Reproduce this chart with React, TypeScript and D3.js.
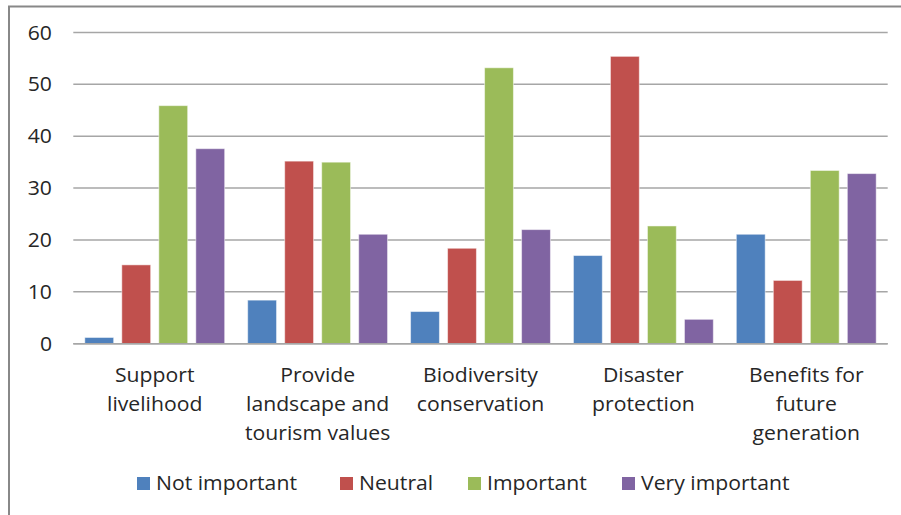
import React from "react";
import * as d3 from "d3";

const categories: string[][] = [
  ["Support", "livelihood"],
  ["Provide", "landscape and", "tourism values"],
  ["Biodiversity", "conservation"],
  ["Disaster", "protection"],
  ["Benefits for", "future", "generation"],
];
const seriesNames = ["Not important", "Neutral", "Important", "Very important"];
const notImportant = [1.2, 8.4, 6.2, 17.0, 21.1];
const neutral = [15.2, 35.2, 18.4, 55.4, 12.2];
const important = [45.9, 35.0, 53.2, 22.7, 33.4];
const veryImportant = [37.6, 21.1, 22.0, 4.7, 32.8];
const yTicks = [0, 10, 20, 30, 40, 50, 60];
const colors = ["#4F81BD", "#C0504D", "#9BBB59", "#8064A2"];

const W = 901;
const H = 515;
const FONT = "'Open Sans', 'DejaVu Sans', sans-serif";
const SX = 1.06;

export default function App() {
  const series = [notImportant, neutral, important, veryImportant];
  const left = 73.3;
  const right = 887.7;
  const y = d3.scaleLinear().domain([0, 60]).range([343.7, 32.5]);
  const x0 = d3
    .scaleBand<number>()
    .domain(categories.map((_, i) => i))
    .range([left, right])
    .paddingInner(0)
    .paddingOuter(0);
  const x1 = d3
    .scaleBand<number>()
    .domain(seriesNames.map((_, i) => i))
    .range([11.5, x0.bandwidth() - 11.5])
    .paddingInner(0.22)
    .paddingOuter(0);

  const legendX = [137, 340, 468, 622];

  return (
    <svg
      width={W}
      height={H}
      style={{ position: "absolute", left: 0, top: 0, background: "#fff" }}
    >
      <rect x={0} y={0} width={W} height={H} fill="#fff" />
      <rect x={9} y={6.5} width={1200} height={1200} fill="none" stroke="#888" strokeWidth={2} />
      {yTicks.map((t) => (
        <g key={t}>
          <line x1={left} x2={right} y1={y(t)} y2={y(t)} stroke="#A6A6A6" strokeWidth={1.5} />
          <g transform={`translate(52,${y(t) + 7}) scale(${SX},1)`}>
            <text textAnchor="end" fontFamily={FONT} fontSize={20} fill="#262626">
              {t}
            </text>
          </g>
        </g>
      ))}
      {categories.map((_, ci) => (
        <g key={ci} transform={`translate(${x0(ci)},0)`}>
          {series.map((s, si) => (
            <rect
              key={si}
              x={x1(si)}
              y={y(s[ci])}
              width={x1.bandwidth()}
              height={y(0) - y(s[ci])}
              fill={colors[si]}
              stroke="#ffffff"
              strokeOpacity={0.5}
              strokeWidth={1}
            />
          ))}
        </g>
      ))}
      <line x1={left} x2={right} y1={y(0)} y2={y(0)} stroke="#A6A6A6" strokeWidth={1.5} />
      {categories.map((lines, ci) => (
        <g
          key={ci}
          transform={`translate(${(x0(ci) ?? 0) + x0.bandwidth() / 2},382) scale(${SX},1)`}
        >
          {lines.map((ln, li) => (
            <text
              key={li}
              x={0}
              y={li * 29}
              textAnchor="middle"
              fontFamily={FONT}
              fontSize={20}
              fill="#262626"
            >
              {ln}
            </text>
          ))}
        </g>
      ))}
      {seriesNames.map((n, i) => (
        <g key={n}>
          <rect x={legendX[i]} y={477} width={13} height={13} fill={colors[i]} />
          <g transform={`translate(${legendX[i] + 19},490) scale(${SX},1)`}>
            <text fontFamily={FONT} fontSize={20} fill="#262626">
              {n}
            </text>
          </g>
        </g>
      ))}
    </svg>
  );
}
